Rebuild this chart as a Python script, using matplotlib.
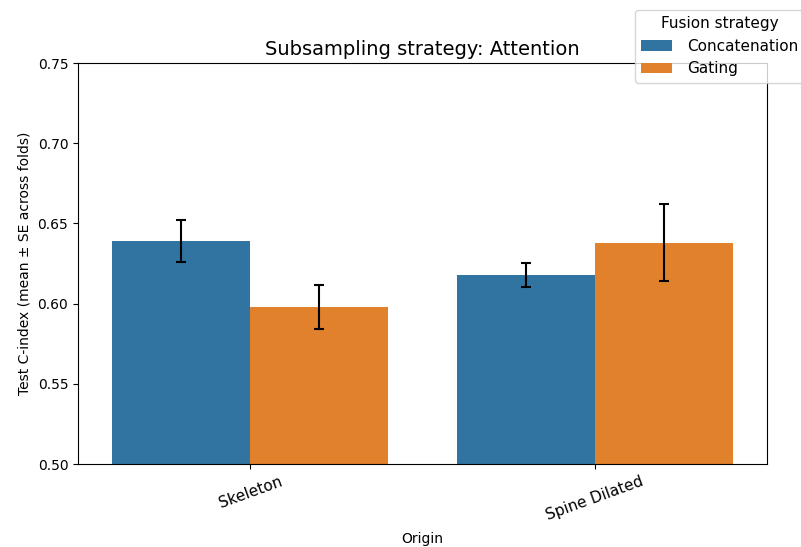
import numpy as np
import matplotlib
matplotlib.use('Agg')
import matplotlib.pyplot as plt

# values
origins = ['Skeleton', 'Spine Dilated']
strategies = ['Concatenation', 'Gating']
concat_mean = [0.639, 0.618]
concat_se = [0.0133, 0.0075]
gating_mean = [0.598, 0.638]
gating_se = [0.0136, 0.024]

colors = ['#3274a1', '#e1812c']

fig = plt.figure(figsize=(8.01, 5.47), dpi=100)
ax = fig.add_axes([0.0974, 0.1517, 0.8602, 0.7331])

x = np.arange(len(origins))
w = 0.4
means = [concat_mean, gating_mean]
ses = [concat_se, gating_se]
for i, name in enumerate(strategies):
    pos = x - w / 2 + i * w
    ax.bar(pos, means[i], width=w, color=colors[i], label=name)
    ax.errorbar(pos, means[i], yerr=ses[i], fmt='none', ecolor='black',
                elinewidth=1.5, capsize=3.6, capthick=1.5)

ax.set_xlim(-0.5, 1.5)
ax.set_ylim(0.5, 0.75)
ax.set_yticks([0.50, 0.55, 0.60, 0.65, 0.70, 0.75])
ax.set_xticks(x)
ax.set_xticklabels(origins, rotation=20, fontsize=11)
ax.set_xlabel('Origin', labelpad=6.5)
ax.set_ylabel('Test C-index (mean ± SE across folds)')
ax.set_title('Subsampling strategy: Attention', fontsize=14)

fig.legend(title='Fusion strategy', loc='upper left', fontsize=11,
           title_fontsize=11, borderaxespad=0, handletextpad=1.0,
           bbox_to_anchor=(635 / 801, 1 - 10 / 547))

fig.savefig('out.png', dpi=100)
